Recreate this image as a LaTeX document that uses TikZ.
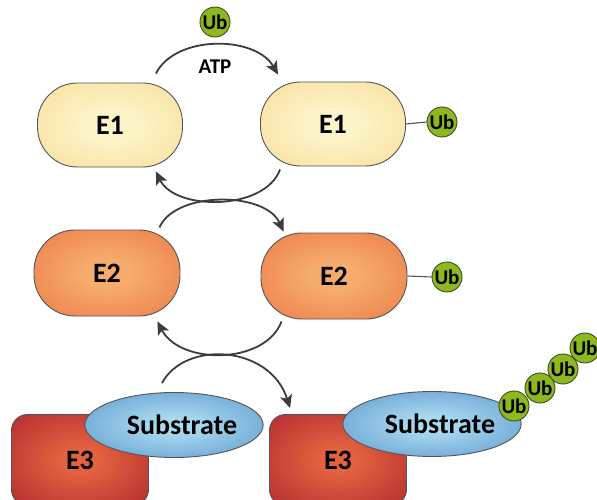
\documentclass[tikz,border=0pt]{standalone}
\usepackage{fontspec}
\setmainfont{Carlito}
\usetikzlibrary{arrows.meta,shapes.geometric}

% colours of the enzymes, the substrate and ubiquitin
\definecolor{eonein}{HTML}{FCF4C8}
\definecolor{eoneout}{HTML}{F7D486}
\definecolor{etwoin}{HTML}{F6AC6C}
\definecolor{etwoout}{HTML}{E8643A}
\definecolor{ethreein}{HTML}{E4633F}
\definecolor{ethreeout}{HTML}{A0122A}
\definecolor{subin}{HTML}{A8D9F0}
\definecolor{subout}{HTML}{3B7BBB}
\definecolor{ubfill}{HTML}{8CB91E}
\definecolor{ubline}{HTML}{3F4A22}
\definecolor{outline}{HTML}{555555}
\definecolor{arrowcol}{HTML}{3C3C3C}

\pgfdeclareradialshading{eoneshade}{\pgfpointorigin}{color(0bp)=(eonein); color(8bp)=(eonein); color(50bp)=(eoneout); color(72bp)=(eoneout)}
\pgfdeclareradialshading{etwoshade}{\pgfpointorigin}{color(0bp)=(etwoin); color(8bp)=(etwoin); color(50bp)=(etwoout); color(72bp)=(etwoout)}
\pgfdeclareradialshading{ethreeshade}{\pgfpointorigin}{color(0bp)=(ethreein); color(6bp)=(ethreein); color(50bp)=(ethreeout); color(72bp)=(ethreeout)}
\pgfdeclareradialshading{subshade}{\pgfpointorigin}{color(0bp)=(subin); color(6bp)=(subin); color(50bp)=(subout); color(72bp)=(subout)}

\tikzset{
  enzyme/.style={draw=outline, line width=0.9pt, inner sep=0pt,
    font=\bfseries\fontsize{28}{28}\selectfont},
  eone/.style={enzyme, rounded corners=40pt, minimum width=145pt,
    minimum height=84pt, shading=eoneshade},
  etwo/.style={enzyme, rounded corners=41pt, minimum width=146pt,
    minimum height=86pt, shading=etwoshade},
  ethree/.style={enzyme, rounded corners=16pt, minimum width=137pt,
    minimum height=91pt, shading=ethreeshade},
  substrate/.style={enzyme, ellipse, minimum width=148pt,
    minimum height=65pt, shading=subshade},
  ub/.style={circle, draw=ubline, line width=0.9pt, fill=ubfill,
    minimum size=30pt, inner sep=0pt,
    font=\bfseries\fontsize{21}{21}\selectfont},
  link/.style={draw=outline, line width=1.1pt},
  cycle/.style={draw=arrowcol, line width=1.8pt,
    -{Stealth[length=13pt,width=12pt,inset=3pt]}},
}

\begin{document}
\begin{tikzpicture}[x=1pt,y=-1pt]
\useasboundingbox (0,0) rectangle (597,500);

% E1 activation
\node[eone] (e1l) at (110,125) {E1};
\node[eone] (e1r) at (333,124) {E1};
\node[ub] (ubfree) at (215,22) {Ub};
\node[ub] (ubone) at (442,122) {Ub};
\draw[link] (e1r.east) -- (ubone.west);
\node[font=\bfseries\fontsize{21}{21}\selectfont] (atp) at (215,67) {ATP};

% E2 conjugation
\node[etwo] (e2l) at (107,273) {E2};
\node[etwo] (e2r) at (334,276) {E2};
\node[ub] (ubtwo) at (447,277) {Ub};
\draw[link] (e2r.east) -- (ubtwo.west);

% E3 ligation
\node[ethree] (e3l) at (80,460) {E3};
\node[substrate] (subl) at (174,425) {\hspace{16pt}Substrate};
\node[ethree] (e3r) at (338,460) {E3};
\node[substrate] (subr) at (432,424) {\hspace{16pt}Substrate};

% polyubiquitin chain
\node[ub] (ubd) at (585,348) {Ub};
\node[ub] (ubc) at (563,369) {Ub};
\node[ub] (ubb) at (540,388) {Ub};
\node[ub] (uba) at (514,406) {Ub};

% reaction arrows
\draw[cycle] ([shift={(-27,-9)}]e1l.north east)
  .. controls (175,35) and (255,35) .. ([shift={(18,-7)}]e1r.north west);
\draw[cycle] ([shift={(20,3)}]e1r.south west)
  .. controls (265,211) and (175,211) .. ([shift={(-27,4)}]e1l.south east);
\draw[cycle] ([shift={(-21,-2)}]e2l.north east)
  .. controls (175,191) and (265,191) .. ([shift={(23,-1)}]e2r.north west);
\draw[cycle] ([shift={(21,2)}]e2r.south west)
  .. controls (265,365) and (180,365) .. ([shift={(-23,5)}]e2l.south east);
\draw[cycle] ([shift={(-12,-9)}]subl.north)
  .. controls (185,340) and (270,345) .. ([shift={(21,-6)}]e3r.north west);
\end{tikzpicture}
\end{document}
